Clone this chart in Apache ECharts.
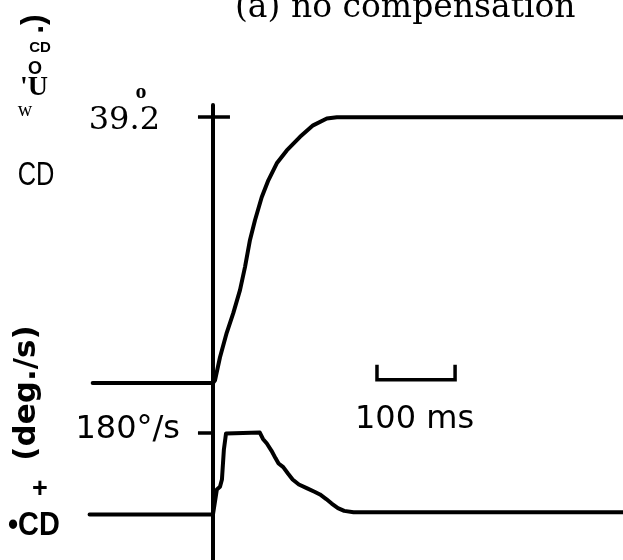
<!DOCTYPE html>
<html>
<head>
<meta charset="utf-8">
<script src="https://cdn.jsdelivr.net/npm/echarts@6/dist/echarts.min.js"></script>
<style>
  html, body { margin: 0; padding: 0; background: #fff; }
  #chart { width: 623px; height: 560px; }
</style>
</head>
<body>
<div id="chart"></div>
<script>
// Step response without compensation: shaft angle (deg) and angular velocity (deg/s) vs time (ms)
const posTimeMs = [-154, 0, 2.6, 9, 17.6, 26, 34.6, 41, 47.4, 53.8, 62.4, 70.9, 81.7, 94.5, 111.5, 128.2, 145.8, 158.6, 526];
const posDeg    = [0, 0, 0.4, 3.8, 7.4, 10.3, 13.7, 17.1, 21.1, 24.0, 27.4, 29.9, 32.4, 34.3, 36.3, 38.0, 39.0, 39.2, 39.2];

const velTimeMs = [-158, 0, 5, 9, 11.5, 14, 16.7, 19, 60, 64, 69, 75, 80, 84, 90, 96, 102, 110, 120, 130, 137, 145, 152, 160, 168, 180, 526];
const velDegS   = [0, 0, 55, 61, 77, 143, 178, 180, 180, 166, 156, 140, 124, 112, 104, 90, 77, 66, 58, 50, 44, 34, 24, 14, 8, 5, 5];

const posTicks = [39.2];
const velTicks = [180];

// 100 ms time-scale bracket
const scaleBarStartMs = 210;
const scaleBarMs = 100;
const scaleBarLevel = 296;
const scaleBarEndTop = 329;

const pair = (xs, ys) => xs.map((x, i) => [x, ys[i]]);

const black = '#000';
const chart = echarts.init(document.getElementById('chart'), null, { renderer: 'canvas' });

const traceStyle = { color: black, width: 4, cap: 'round', join: 'round' };

chart.setOption({
  animation: false,
  backgroundColor: '#fff',
  grid: { left: 88, right: 0, top: 105, bottom: 0, containLabel: false, outerBoundsMode: 'none' },
  xAxis: { type: 'value', min: -160, max: 525, show: false },
  yAxis: [
    {
      type: 'value', position: 'left', min: -26.1, max: 41,
      axisLine: { show: true, onZero: true, onZeroAxisIndex: 0, lineStyle: { color: black, width: 4 } },
      axisTick: { show: true, customValues: posTicks, length: 15, lineStyle: { color: black, width: 3.5 } },
      axisLabel: { show: false },
      splitLine: { show: false }
    },
    {
      type: 'value', position: 'left', min: -26.1, max: 41,
      axisLine: { show: false, onZero: true, onZeroAxisIndex: 0 },
      axisTick: { show: true, inside: true, customValues: posTicks, length: 17, lineStyle: { color: black, width: 3.5 } },
      axisLabel: { show: false },
      splitLine: { show: false }
    },
    {
      type: 'value', position: 'left', min: -100, max: 900,
      axisLine: { show: false, onZero: true, onZeroAxisIndex: 0 },
      axisTick: { show: true, customValues: velTicks, length: 15, lineStyle: { color: black, width: 3.5 } },
      axisLabel: { show: false },
      splitLine: { show: false }
    }
  ],
  series: [
    {
      name: 'angle', type: 'line', yAxisIndex: 0, showSymbol: false, smooth: false,
      lineStyle: traceStyle, data: pair(posTimeMs, posDeg), z: 3
    },
    {
      name: 'velocity', type: 'line', yAxisIndex: 2, showSymbol: false, smooth: false,
      lineStyle: traceStyle, data: pair(velTimeMs, velDegS), z: 3
    },
    {
      name: 'scale', type: 'line', yAxisIndex: 2, showSymbol: false,
      lineStyle: { color: black, width: 3.5, join: 'miter' },
      data: [
        [scaleBarStartMs, scaleBarEndTop],
        [scaleBarStartMs, scaleBarLevel],
        [scaleBarStartMs + scaleBarMs, scaleBarLevel],
        [scaleBarStartMs + scaleBarMs, scaleBarEndTop]
      ]
    }
  ],
  graphic: [
    { type: 'text', x: 235, y: 8, style: { text: '(a) no compensation', font: '33px "DejaVu Serif"', fill: black, align: 'left', verticalAlign: 'middle' } },
    // tick value labels
    { type: 'text', x: 160, y: 121, style: { text: posTicks[0].toFixed(1), font: '32px "DejaVu Serif"', fill: black, align: 'right', verticalAlign: 'middle' } },
    { type: 'text', x: 141, y: 92, style: { text: 'o', font: 'bold 22px "Liberation Serif"', fill: black, align: 'center', verticalAlign: 'middle' } },
    { type: 'text', x: 180, y: 430, style: { text: velTicks[0] + '°/s', font: '32px "DejaVu Sans"', fill: black, align: 'right', verticalAlign: 'middle' } },
    { type: 'text', x: 355, y: 420, style: { text: scaleBarMs + ' ms', font: '32px "DejaVu Sans"', fill: black, align: 'left', verticalAlign: 'middle' } },

    // side annotations
    { type: 'text', x: 34, y: 24, rotation: Math.PI / 2, style: { text: '.)', font: 'bold 32px "Liberation Sans"', fill: black, align: 'center', verticalAlign: 'middle' } },
    { type: 'text', x: 40, y: 48, style: { text: 'CD', font: 'bold 15px "Liberation Sans"', fill: black, align: 'center', verticalAlign: 'middle' } },
    { type: 'text', x: 35, y: 69, style: { text: 'O', font: 'bold 18px "Liberation Sans"', fill: black, align: 'center', verticalAlign: 'middle' } },
    { type: 'text', x: 20, y: 88, style: { text: "'U", font: 'bold 28px "Liberation Serif"', fill: black, align: 'left', verticalAlign: 'middle' } },
    { type: 'text', x: 25, y: 111, style: { text: 'w', font: '20px "Liberation Serif"', fill: black, align: 'center', verticalAlign: 'middle' } },
    { type: 'text', x: 36, y: 176, scaleX: 0.77, style: { text: 'CD', font: '33px "Liberation Sans"', fill: black, align: 'center', verticalAlign: 'middle' } },
    { type: 'text', x: 27, y: 393, rotation: Math.PI / 2, style: { text: '(deg./s)', font: 'bold 31px "DejaVu Sans"', fill: black, align: 'center', verticalAlign: 'middle' } },
    { type: 'text', x: 40, y: 490, style: { text: '+', font: 'bold 27px "Liberation Sans"', fill: black, align: 'center', verticalAlign: 'middle' } },
    { type: 'text', x: 8, y: 526, scaleX: 0.85, style: { text: '•CD', font: 'bold 34px "Liberation Sans"', fill: black, align: 'left', verticalAlign: 'middle' } }
  ]
});
</script>
</body>
</html>
